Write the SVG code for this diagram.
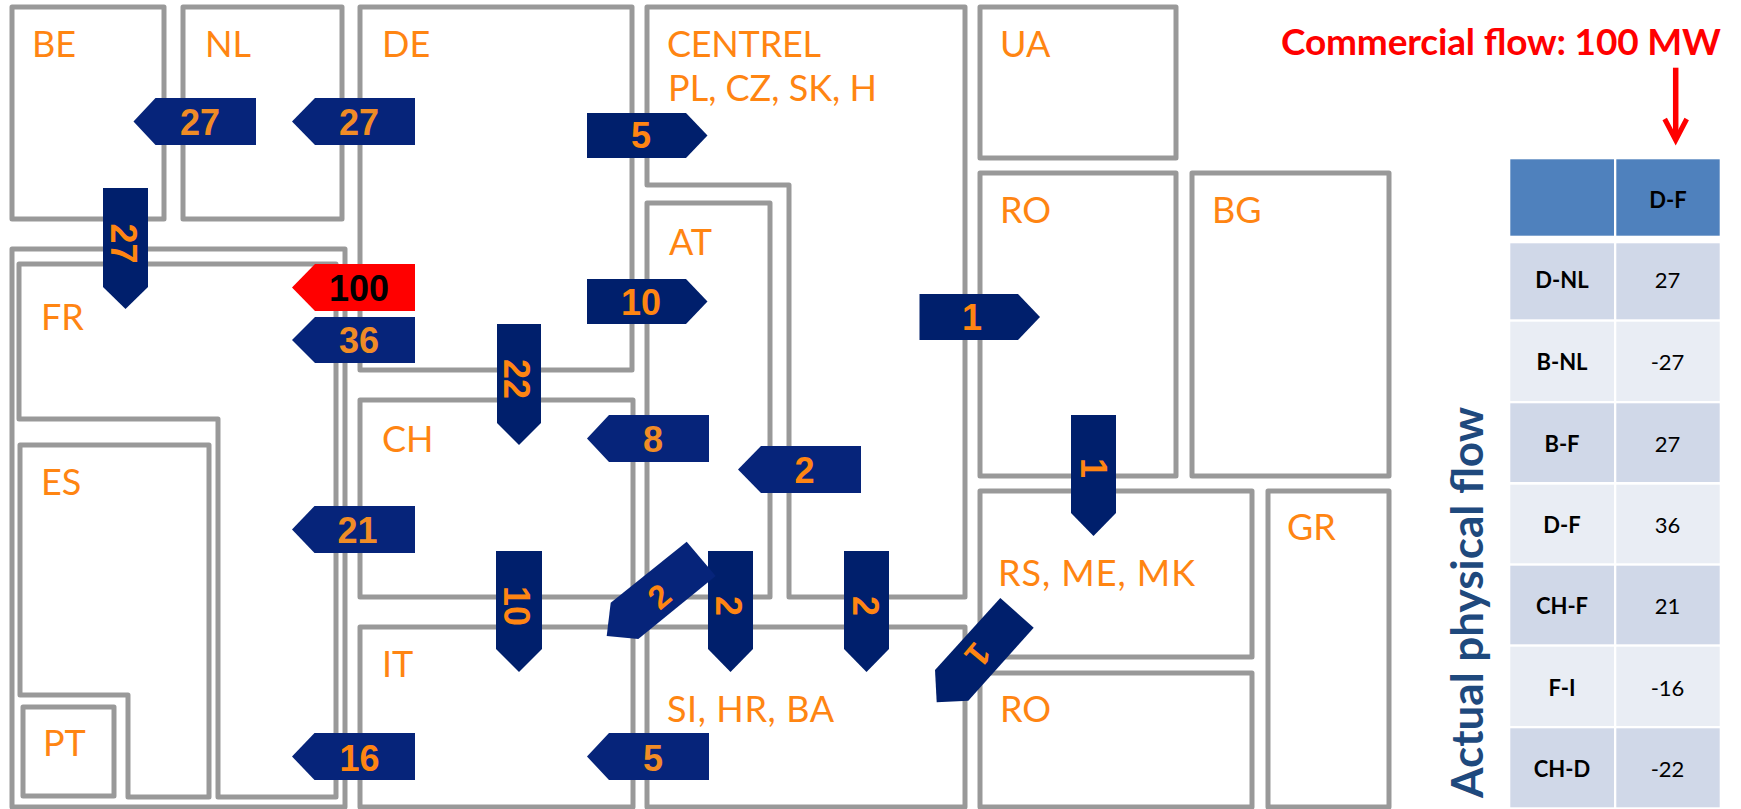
<svg xmlns="http://www.w3.org/2000/svg" width="1741" height="809" viewBox="0 0 1741 809">
<style>
.r{fill:none;stroke:#999;stroke-width:5;stroke-linejoin:round}
.l{font:36px Lato,"Liberation Sans",sans-serif;fill:#FF8512}
.a{fill:#001F6C}
.b{fill:#06247A}
.n{font:bold 36px "Liberation Sans",Arial,sans-serif;fill:#FF8512;text-anchor:middle}
.m{fill:#F08C26}
.t1{fill:#4F81BD}.t2{fill:#D0D8E8}.t3{fill:#E9EDF4}
.h{font:bold 22px Lato,"Liberation Sans",sans-serif;fill:#000;text-anchor:middle}
.v{font:22px Lato,"Liberation Sans",sans-serif;fill:#000;text-anchor:middle}
</style>
<defs>
<marker id="chev" markerUnits="userSpaceOnUse" markerWidth="30" markerHeight="30" refX="23" refY="15" orient="auto">
<path d="M2 4 L23 15 L2 26" transform="translate(1 0)" fill="none" stroke="#f00" stroke-width="5"/>
</marker>
</defs>
<rect width="1741" height="809" fill="#fff"/>
<g id="BE"><rect class="r" x="12" y="7" width="152" height="212"/><text class="l" x="32" y="57">BE</text></g>
<g id="NL"><rect class="r" x="183" y="7" width="159" height="212"/><text class="l" x="205" y="57">NL</text></g>
<g id="DE"><rect class="r" x="360" y="7" width="272" height="363"/><text class="l" x="382" y="57">DE</text></g>
<g id="FR-outer"><rect class="r" x="12" y="249" width="333" height="558"/></g>
<g id="FR"><path class="r" d="M19 264H336V797H218V419H19Z"/><text class="l" x="41" y="330">FR</text></g>
<g id="ES"><path class="r" d="M20 445H209V797H128V695H20Z"/><text class="l" x="41" y="495">ES</text></g>
<g id="PT"><rect class="r" x="23" y="707" width="91" height="89"/><text class="l" x="43" y="756">PT</text></g>
<g id="CH"><rect class="r" x="360" y="400" width="273" height="197"/><text class="l" x="382" y="452">CH</text></g>
<g id="IT"><rect class="r" x="360" y="627" width="273" height="180"/><text class="l" x="382" y="677">IT</text></g>
<g id="CENTREL"><path class="r" d="M647 7H965V597H789V185H647Z"/><text class="l" x="667" y="57" textLength="154">CENTREL</text><text class="l" x="668" y="101" textLength="209">PL, CZ, SK, H</text></g>
<g id="AT"><rect class="r" x="647" y="203" width="123" height="394"/><text class="l" x="669" y="255">AT</text></g>
<g id="SI-HR-BA"><rect class="r" x="647" y="627" width="318" height="180"/><text class="l" x="667" y="722" textLength="167">SI, HR, BA</text></g>
<g id="UA"><rect class="r" x="980" y="7" width="196" height="151"/><text class="l" x="1000" y="57">UA</text></g>
<g id="RO-north"><rect class="r" x="980" y="173" width="196" height="303"/><text class="l" x="1000" y="223">RO</text></g>
<g id="BG"><rect class="r" x="1192" y="173" width="197" height="303"/><text class="l" x="1212" y="223">BG</text></g>
<g id="RS-ME-MK"><rect class="r" x="980" y="491" width="272" height="166"/><text class="l" x="998" y="586" textLength="197">RS, ME, MK</text></g>
<g id="RO-south"><rect class="r" x="980" y="673" width="272" height="134"/><text class="l" x="1000" y="722">RO</text></g>
<g id="GR"><rect class="r" x="1268" y="491" width="121" height="316"/><text class="l" x="1287" y="540">GR</text></g>
<g id="connectors">
<g><path class="b" d="M133.500 121.500L155.500 98H256V145H155.500Z"/><text class="n m" x="200" y="135">27</text></g>
<g><path class="b" d="M292 121.500L315 98H415V145H315Z"/><text class="n m" x="359" y="135">27</text></g>
<g><path fill="#f00" d="M292 287.500L315 264H415V311H315Z"/><text class="n" style="fill:#000" x="359" y="301">100</text></g>
<g><path class="b" d="M292 340L315 317H415V363H315Z"/><text class="n m" x="359" y="353">36</text></g>
<g><path class="a" d="M103 188H148V287L125.500 309L103 287Z"/><text class="n" transform="translate(123.500 243.500) rotate(90)" y="13">27</text></g>
<g><path class="a" d="M587 113H686L707.500 135.500L686 158H587Z"/><text class="n" x="641" y="148">5</text></g>
<g><path class="a" d="M587 279H686L707.500 301.500L686 324H587Z"/><text class="n" x="641" y="315">10</text></g>
<g><path class="a" d="M497 324H541V423L519 445L497 423Z"/><text class="n" transform="translate(517 379) rotate(90)" y="13">22</text></g>
<g><path class="b" d="M587 438.500L609 415H709V462H609Z"/><text class="n m" x="653" y="452">8</text></g>
<g><path class="b" d="M292 529.500L314.500 506H415V553H314.500Z"/><text class="n m" x="357.500" y="543">21</text></g>
<g><path class="a" d="M496 551H542V649L519 672L496 649Z"/><text class="n" transform="translate(517 606) rotate(90)" y="13">10</text></g>
<g><path class="b" d="M292 756.500L314.500 733H415V780H314.500Z"/><text class="n" x="359.500" y="770.500">16</text></g>
<g><path class="b" d="M587 756.500L609 733H709V780H609Z"/><text class="n m" x="653" y="770.500">5</text></g>
<g><path class="b" d="M738 469.500L761 446H861V493H761Z"/><text class="n" x="804.500" y="483">2</text></g>
<g><path class="a" d="M708 551H753V649L730.500 672L708 649Z"/><text class="n" transform="translate(729 606) rotate(90)" y="13">2</text></g>
<g><path class="a" d="M844 551H889V649L866.500 672L844 649Z"/><text class="n" transform="translate(866 606) rotate(90)" y="13">2</text></g>
<g><path class="a" d="M919.500 294H1018L1040 317L1018 340H919.500Z"/><text class="n" x="972" y="330">1</text></g>
<g><path class="a" d="M1071 415H1116V513L1093.500 536L1071 513Z"/><text class="n" transform="translate(1093.500 468) rotate(90)" y="13">1</text></g>
<g><path class="b" d="M686.700 541.700L715.700 576L638.300 639L606.700 636L610.700 602.700Z"/><text class="n" transform="translate(659 596) rotate(-40)" y="12" style="font-size:33px">2</text></g>
<g><path class="a" d="M1000.300 598L1033.700 627.700L968.300 700.700L936.700 702.300L935 670Z"/><text class="n" transform="translate(978 655) rotate(130)" y="12" style="font-size:34px">1</text></g>
<path d="M1675.700 67.700V139" fill="none" stroke="#f00" stroke-width="5.500" marker-end="url(#chev)"/>
</g>
<text x="1281" y="55" font-family="Lato,'Liberation Sans',sans-serif" font-size="37" font-weight="700" fill="#f00" textLength="440">Commercial flow: 100 MW</text>
<text transform="translate(1482.500 798) rotate(-90)" font-family="Lato,'Liberation Sans',sans-serif" font-size="44" font-weight="700" fill="#1F497D">Actual physical flow</text>
<g id="flow-table">
<rect class="t1" x="1510.300" y="159.300" width="103.700" height="76.400"/><rect class="t1" x="1616.300" y="159.300" width="103.400" height="76.400"/>
<rect class="t2" x="1510.300" y="243.300" width="103.700" height="76"/><rect class="t2" x="1616.300" y="243.300" width="103.400" height="76"/>
<rect class="t3" x="1510.300" y="321.700" width="103.700" height="79.300"/><rect class="t3" x="1616.300" y="321.700" width="103.400" height="79.300"/>
<rect class="t2" x="1510.300" y="403.300" width="103.700" height="78.700"/><rect class="t2" x="1616.300" y="403.300" width="103.400" height="78.700"/>
<rect class="t3" x="1510.300" y="484.700" width="103.700" height="78.600"/><rect class="t3" x="1616.300" y="484.700" width="103.400" height="78.600"/>
<rect class="t2" x="1510.300" y="565.700" width="103.700" height="78.600"/><rect class="t2" x="1616.300" y="565.700" width="103.400" height="78.600"/>
<rect class="t3" x="1510.300" y="646.700" width="103.700" height="79.300"/><rect class="t3" x="1616.300" y="646.700" width="103.400" height="79.300"/>
<rect class="t2" x="1510.300" y="728.300" width="103.700" height="79"/><rect class="t2" x="1616.300" y="728.300" width="103.400" height="79"/>
<text class="h" x="1668" y="207.500">D-F</text>
<text class="h" x="1562" y="288">D-NL</text><text class="v" x="1667.500" y="288">27</text>
<text class="h" x="1562" y="370">B-NL</text><text class="v" x="1667.500" y="370">-27</text>
<text class="h" x="1562" y="451.500">B-F</text><text class="v" x="1667.500" y="451.500">27</text>
<text class="h" x="1562" y="532.500">D-F</text><text class="v" x="1667.500" y="532.500">36</text>
<text class="h" x="1562" y="613.500">CH-F</text><text class="v" x="1667.500" y="613.500">21</text>
<text class="h" x="1562" y="695.500">F-I</text><text class="v" x="1667.500" y="695.500">-16</text>
<text class="h" x="1562" y="776.500">CH-D</text><text class="v" x="1667.500" y="776.500">-22</text>
</g>
</svg>
